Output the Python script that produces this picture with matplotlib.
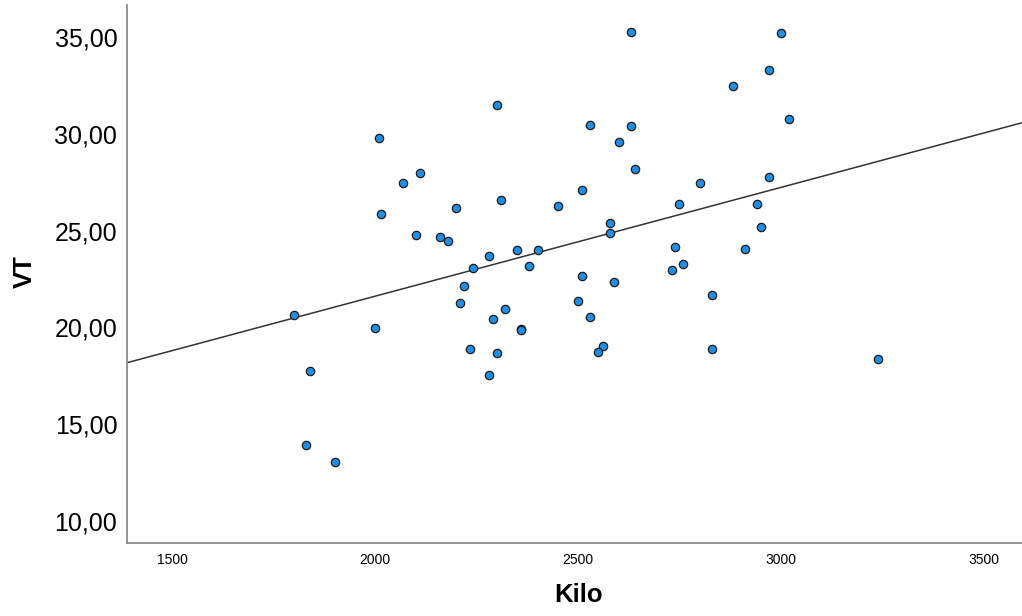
import numpy as np
import matplotlib
matplotlib.use('Agg')
import matplotlib.pyplot as plt

##------------data----------------------------------------##
kilo = [1800, 2001, 1840, 1830, 1901, 2010, 2015, 2631, 3001, 2971, 2881,
        2300, 3020, 2530, 2631, 2600, 2640, 2971, 2110, 2070, 2800, 2510,
        2310, 2200, 2451, 2750, 2941, 2951, 2100, 2160, 2180, 2580, 2580,
        2740, 2911, 2350, 2401, 2280, 2380, 2760, 2731, 2241, 2510, 2590,
        2220, 2831, 2210, 2500, 2320, 2291, 2360, 2360, 2530, 2235, 2300,
        2280, 2561, 2550, 2831, 3240]
vt = [20.66, 19.95, 17.75, 13.94, 13.05, 29.78, 25.87, 35.27, 35.19, 33.28,
      32.47, 31.47, 30.78, 30.47, 30.39, 29.58, 28.18, 27.77, 27.98, 27.47,
      27.47, 27.08, 26.56, 26.17, 26.27, 26.37, 26.37, 25.17, 24.76, 24.65,
      24.48, 25.38, 24.86, 24.17, 24.07, 23.98, 23.98, 23.67, 23.17, 23.26,
      22.96, 23.07, 22.67, 22.36, 22.16, 21.67, 21.26, 21.36, 20.95, 20.45,
      19.93, 19.85, 20.55, 18.87, 18.66, 17.54, 19.06, 18.75, 18.87, 18.37]
x_ticks = [1500, 2000, 2500, 3000, 3500]
y_ticks = [10, 15, 20, 25, 30, 35]

##------------figure-----------------##
plt.rcParams['font.family'] = ['Liberation Sans', 'DejaVu Sans']

fig = plt.figure(figsize=(10.22, 6.16), dpi=100)
ax = fig.add_axes([127/1022, 73/616, 895/1022, 538/616])

ax.scatter(kilo, vt, s=36, c='#1f8fe3', edgecolors='#1b1b1b', linewidths=0.9, zorder=3)

# fit line over full axis range
xlim = (1389, 3594)
b, a = np.polyfit(kilo, vt, 1)
xx = np.array(xlim)
ax.plot(xx, a + b*xx, color='#333333', lw=1.1, zorder=2)

ax.set_xlim(*xlim)
ax.set_ylim(8.86, 36.65)
ax.set_xticks(x_ticks)
ax.set_yticks(y_ticks)
ax.set_xticklabels([str(t) for t in x_ticks], fontsize=10)
ax.set_yticklabels([('%.2f' % t).replace('.', ',') for t in y_ticks], fontsize=18)
ax.tick_params(length=0)
ax.tick_params(axis='x', pad=7)
ax.tick_params(axis='y', pad=7)

for s in ['top', 'right']:
    ax.spines[s].set_visible(False)
for s in ['left', 'bottom']:
    ax.spines[s].set_color('#8c8c8c')
    ax.spines[s].set_linewidth(1.3)

ax.set_xlabel('Kilo', fontsize=18.5, fontweight='bold', va='center')
ax.xaxis.set_label_coords(0.504, -0.0967)
ax.set_ylabel('VT', fontsize=18.5, fontweight='bold', va='center')
ax.yaxis.set_label_coords(-0.114, 0.504)

plt.savefig('out.png', dpi=100)
